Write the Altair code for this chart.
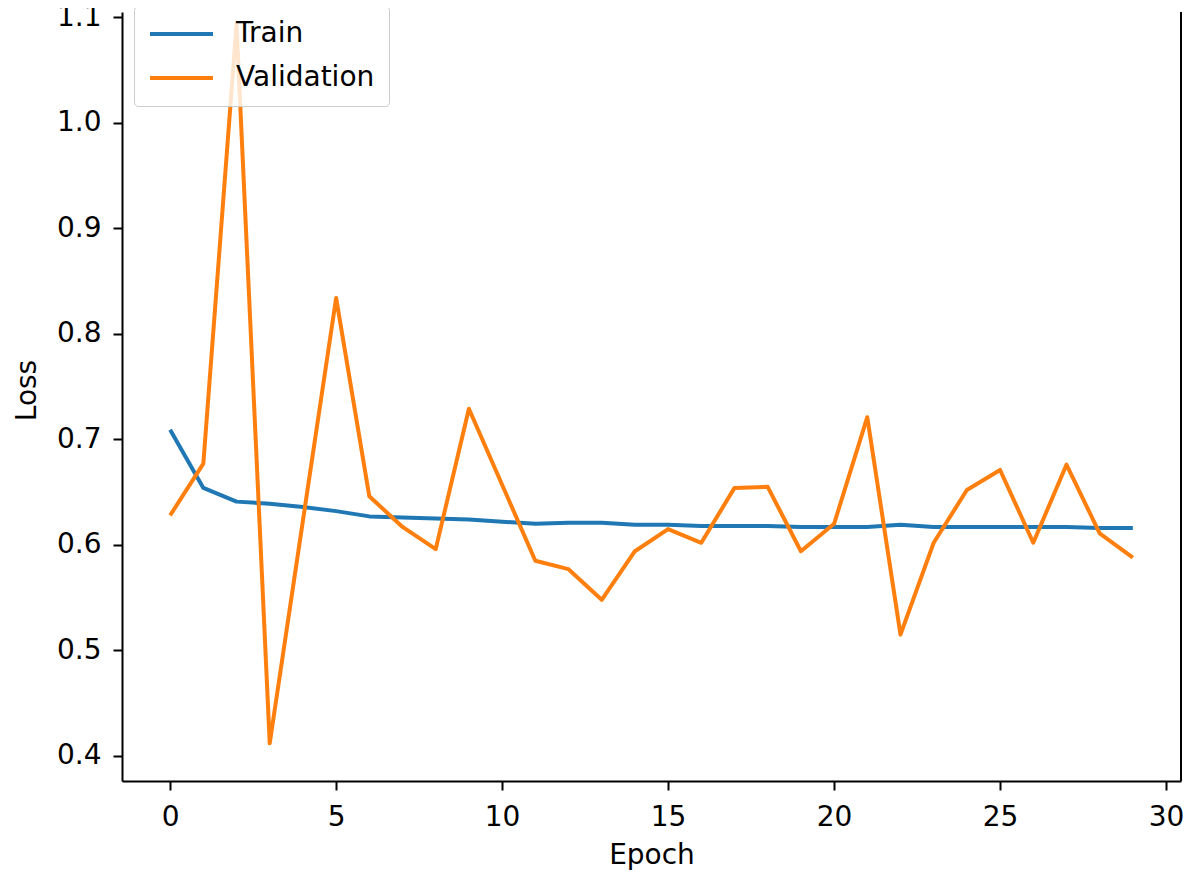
import altair as alt
import pandas as pd

# ---- data ----
epochs = list(range(30))
train_loss = [0.709, 0.654, 0.641, 0.639, 0.636, 0.632, 0.627, 0.626, 0.625, 0.624,
              0.622, 0.620, 0.621, 0.621, 0.619, 0.619, 0.618, 0.618, 0.618, 0.617,
              0.617, 0.617, 0.619, 0.617, 0.617, 0.617, 0.617, 0.617, 0.616, 0.616]
val_loss = [0.628, 0.677, 1.093, 0.412, 0.623, 0.834, 0.646, 0.617, 0.596, 0.729,
            0.657, 0.585, 0.577, 0.548, 0.594, 0.615, 0.602, 0.654, 0.655, 0.594,
            0.620, 0.721, 0.515, 0.602, 0.652, 0.671, 0.602, 0.676, 0.611, 0.588]
series_names = ["Train", "Validation"]
series_colors = ["#1f77b4", "#ff7f0e"]
x_ticks = [0, 5, 10, 15, 20, 25, 30]
y_ticks = [0.4, 0.5, 0.6, 0.7, 0.8, 0.9, 1.0, 1.1]

df = pd.concat([
    pd.DataFrame({"Epoch": epochs, "Loss": train_loss, "Series": series_names[0]}),
    pd.DataFrame({"Epoch": epochs, "Loss": val_loss, "Series": series_names[1]}),
])

FONT = "DejaVu Sans"
FS = 28
W, H = 1059, 769

x_axis = alt.Axis(values=x_ticks, format="d", grid=False, labelFont=FONT, labelFontSize=FS,
                  labelColor="black", labelPadding=13, labelFlush=False, labelOverlap=False,
                  tickColor="black", tickSize=9, tickWidth=2, domainColor="black", domainWidth=2,
                  title="Epoch", titleFont=FONT, titleFontSize=FS, titleFontWeight="normal",
                  titleColor="black", titleX=W / 2, titleY=82, titleAlign="center",
                  titleBaseline="alphabetic")
y_axis = alt.Axis(values=y_ticks, format=".1f", grid=False, labelFont=FONT, labelFontSize=FS,
                  labelColor="black", labelPadding=12, labelFlush=False, labelOverlap=False,
                  tickColor="black", tickSize=9, tickWidth=2, domainColor="black", domainWidth=2,
                  title="Loss", titleFont=FONT, titleFontSize=FS, titleFontWeight="normal",
                  titleColor="black", titleX=-87, titleY=378, titleAngle=270,
                  titleAlign="center", titleBaseline="alphabetic")

lines = alt.Chart(df).mark_line(strokeWidth=4, strokeJoin="round", clip=False).encode(
    x=alt.X("Epoch:Q", scale=alt.Scale(domain=[-1.45, 30.45], nice=False, zero=False), axis=x_axis),
    y=alt.Y("Loss:Q", scale=alt.Scale(domain=[0.3763, 1.1049], nice=False, zero=False), axis=y_axis),
    color=alt.Color("Series:N",
                    scale=alt.Scale(domain=series_names, range=series_colors),
                    legend=alt.Legend(title=None, orient="none", legendX=12, legendY=-6,
                                      symbolType="stroke", symbolSize=3969, symbolStrokeWidth=4,
                                      clipHeight=28, rowPadding=16, padding=14,
                                      labelFont=FONT, labelFontSize=FS, labelColor="black",
                                      labelOffset=21, labelLimit=400,
                                      fillColor="rgba(255,255,255,0.8)", strokeColor="#cccccc",
                                      cornerRadius=4)),
    order="Epoch:Q",
)

right_spine = alt.Chart(pd.DataFrame({"s": [0]})).mark_rule(color="black", strokeWidth=2).encode(
    x=alt.value(W), y=alt.value(0), y2=alt.value(H)
)

chart = alt.layer(lines, right_spine).properties(
    width=W, height=H,
    autosize=alt.AutoSizeParams(type="none"),
    padding={"left": 114, "top": 4, "right": 2, "bottom": 89},
).configure_view(stroke=None)

chart.save("out.html", embed_options={"renderer": "svg", "actions": False})
